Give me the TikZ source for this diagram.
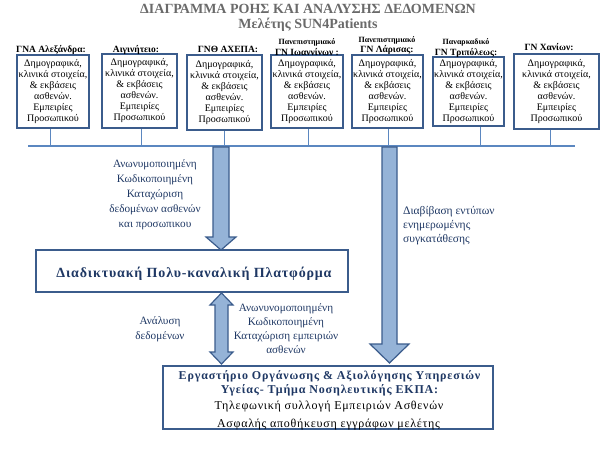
\documentclass[tikz,border=0pt]{standalone}
\usepackage{fontspec}
\setmainfont{Liberation Serif}
\definecolor{boxblue}{HTML}{3B5C8C}
\definecolor{lineblue}{HTML}{5B87C0}
\definecolor{arrowfill}{HTML}{95B3D7}
\definecolor{navytext}{HTML}{1F3864}
\definecolor{titlegray}{HTML}{6A6A6A}
\begin{document}
\begin{tikzpicture}[x=1pt,y=-1pt,
  sitebox/.style={draw=boxblue, line width=2.2pt, align=center, inner sep=0pt,
    font=\fontsize{10}{11}\selectfont},
  sitelabel/.style={font=\bfseries\fontsize{9.5}{10.5}\selectfont, align=center, inner sep=0pt},
  smalllabel/.style={font=\bfseries\fontsize{8}{9}\selectfont, inner sep=0pt},
  flowtext/.style={text=navytext, font=\fontsize{11.2}{15}\selectfont, align=center, inner sep=0pt},
  bigbox/.style={draw=boxblue, line width=2.2pt, fill=white},
  labbold/.style={text=navytext, font=\bfseries\fontsize{12}{14}\selectfont\addfontfeature{LetterSpace=7}, inner sep=0, anchor=base},
  labplain/.style={font=\fontsize{12}{14}\selectfont\addfontfeature{LetterSpace=6}, inner sep=0, anchor=base},
  bigarrow/.style={draw=boxblue, line width=1.2pt, fill=arrowfill, line join=miter},
  drop/.style={draw=lineblue, line width=0.8pt}]
\useasboundingbox (0,0) rectangle (607,457);
% title
\node[text=titlegray, font=\bfseries\fontsize{14}{16}\selectfont, inner sep=0] (t1) at (308,9) {ΔΙΑΓΡΑΜΜΑ ΡΟΗΣ ΚΑΙ ΑΝΑΛΥΣΗΣ ΔΕΔΟΜΕΝΩΝ};
\node[text=titlegray, font=\bfseries\fontsize{14}{16}\selectfont, inner sep=0] (t2) at (308,25) {Μελέτης SUN4Patients};
% site boxes
\newcommand{\sitetext}{Δημογραφικά,\\κλινικά στοιχεία,\\\& εκβάσεις\\ασθενών.\\Εμπειρίες\\Προσωπικού}
\node[sitebox, minimum width=72pt, minimum height=73pt] (b1) at (53,91.5) {\sitetext};
\node[sitebox, minimum width=75pt, minimum height=74pt] (b2) at (139.5,91) {\sitetext};
\node[sitebox, minimum width=75pt, minimum height=75pt] (b3) at (224.5,92.5) {\sitetext};
\node[sitebox, minimum width=72pt, minimum height=73pt] (b4) at (307,91.5) {\sitetext};
\node[sitebox, minimum width=71pt, minimum height=73pt] (b5) at (387.5,91.5) {\sitetext};
\node[sitebox, minimum width=71pt, minimum height=69pt] (b6) at (468.5,91.5) {\sitetext};
\node[sitebox, minimum width=85pt, minimum height=75pt] (b7) at (556.5,91.5) {\sitetext};
% site labels
\node[sitelabel] (l1) at (51,49.5) {ΓΝΑ Αλεξάνδρα:};
\node[sitelabel] (l2) at (136,49.5) {Αιγινήτειο:};
\node[sitelabel] (l3) at (228,49.5) {ΓΝΘ ΑΧΕΠΑ:};
\node[smalllabel] (l4a) at (307,42) {Πανεπιστημιακό};
\node[sitelabel] (l4b) at (307,52.5) {ΓΝ Ιωαννίνων :};
\node[smalllabel] (l5a) at (387,40) {Πανεπιστημιακό};
\node[sitelabel] (l5b) at (387,50) {ΓΝ Λάρισας:};
\node[smalllabel] (l6a) at (466,42) {Παναρκαδικό};
\node[sitelabel] (l6b) at (466,53) {ΓΝ Τριπόλεως:};
\node[sitelabel] (l7) at (549,47) {ΓΝ Χανίων:};
% bus line
\coordinate (busL) at (28,146);
\coordinate (busR) at (575,146);
\foreach \i/\x in {1/50,2/141,3/224,4/308,5/388,6/480,7/550}{
  \coordinate (d\i) at (\x,146);
  \draw[drop] (b\i.south -| d\i) -- (d\i);
}
\draw[draw=lineblue, line width=2pt] (busL) -- (busR);
% platform box
\node[bigbox, minimum width=312pt, minimum height=42pt, inner sep=0] (plat) at (192,271) {};
\node[text=navytext, inner sep=0, anchor=base,
  font=\bfseries\fontsize{14}{17}\selectfont\addfontfeature{LetterSpace=6}] (plattext) at (194,277) {Διαδικτυακή Πολυ-καναλική Πλατφόρμα};
% lab box
\node[bigbox, minimum width=330pt, minimum height=63pt, inner sep=0] (lab) at (328,397.5) {};
\node[labbold] (lab1) at (329.5,379) {Εργαστήριο Οργάνωσης \& Αξιολόγησης Υπηρεσιών};
\node[labbold] (lab2) at (329.5,393) {Υγείας- Τμήμα Νοσηλευτικής ΕΚΠΑ:};
\node[labplain] (lab3) at (329,409) {Τηλεφωνική συλλογή Εμπειριών Ασθενών};
\node[labplain] (lab4) at (328.5,427) {Ασφαλής αποθήκευση εγγράφων μελέτης};
% big arrow 1: bus -> platform
\draw[bigarrow] (213,147) -- (229,147) -- (229,237) -- (236,237) -- (221,250) -- (206,237) -- (213,237) -- cycle;
% big arrow 2: bus -> lab
\draw[bigarrow] (382,147) -- (397,147) -- (397,344) -- (409,344) -- (389.5,363) -- (370,344) -- (382,344) -- cycle;
% double arrow platform <-> lab
\draw[bigarrow] (221.5,293) -- (233,305) -- (228,305) -- (228,352) -- (233,352) -- (221.5,364) -- (210,352) -- (215,352) -- (215,305) -- (210,305) -- cycle;
% flow labels
\node[flowtext] (f1) at (155,195) {Ανωνυμοποιημένη\\Κωδικοποιημένη\\Καταχώριση\\δεδομένων ασθενών\\και προσωπικου};
\node[flowtext, font=\fontsize{11.5}{14}\selectfont, align=left, anchor=west] (f2) at (403,226) {Διαβίβαση εντύπων\\ενημερωμένης\\συγκατάθεσης};
\node[flowtext] (f3) at (160,329.5) {Ανάλυση\\δεδομένων};
\node[flowtext, font=\fontsize{11.2}{14}\selectfont] (f4) at (286,329) {Ανωνυνομοποιημένη\\Κωδικοποιημένη\\Καταχώριση εμπειριών\\ασθενών};
\end{tikzpicture}
\end{document}
